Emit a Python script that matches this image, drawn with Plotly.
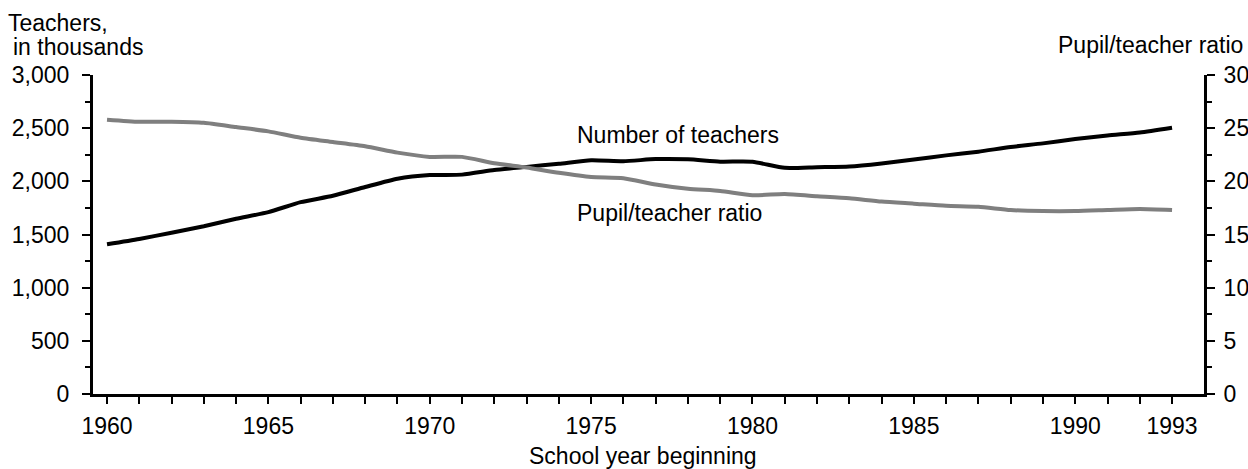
import plotly.graph_objects as go

years = list(range(1960, 1994))
teachers = [1408, 1458, 1517, 1578, 1648, 1710, 1804, 1864, 1947, 2025,
            2059, 2063, 2106, 2136, 2165, 2198, 2189, 2209, 2207, 2185,
            2184, 2127, 2133, 2139, 2168, 2206, 2244, 2279, 2323, 2357,
            2398, 2432, 2459, 2504]
ratio = [25.8, 25.6, 25.6, 25.5, 25.1, 24.7, 24.1, 23.7, 23.3, 22.7,
         22.3, 22.3, 21.7, 21.3, 20.8, 20.4, 20.3, 19.7, 19.3, 19.1,
         18.7, 18.8, 18.6, 18.4, 18.1, 17.9, 17.7, 17.6, 17.3, 17.2,
         17.2, 17.3, 17.4, 17.3]
x_tick_vals = [1960, 1965, 1970, 1975, 1980, 1985, 1990, 1993]
x_tick_text = ["1960", "1965", "1970", "1975", "1980", "1985", "1990", "1993"]

FONT = "Liberation Sans, Arial, Helvetica, sans-serif"
FS = 23

L, R, T, B = 93, 44, 75, 75
W, H = 1248, 469
PW, PH = W - L - R, H - T - B


def px(xp):
    return (xp - L) / PW


def py(yp):
    return (H - B - yp) / PH


fig = go.Figure()
fig.add_trace(go.Scatter(x=years, y=ratio, yaxis="y2", mode="lines",
                         line=dict(color="#7f7f7f", width=4, shape="spline", smoothing=0.6),
                         name="Pupil/teacher ratio", showlegend=False))
fig.add_trace(go.Scatter(x=years, y=teachers, mode="lines",
                         line=dict(color="#000000", width=4, shape="spline", smoothing=0.6),
                         name="Number of teachers", showlegend=False))

tickstyle = dict(ticks="outside", tickwidth=2, tickcolor="black")

fig.update_layout(
    width=W, height=H,
    margin=dict(l=L, r=R, t=T, b=B),
    paper_bgcolor="white", plot_bgcolor="white",
    font=dict(family=FONT, size=FS, color="black"),
    xaxis=dict(range=[1959.566, 1993.99], showgrid=False, zeroline=False, automargin=False,
               showline=True, linecolor="black", linewidth=3,
               ticklen=7, ticklabelstandoff=2, **tickstyle,
               tickvals=x_tick_vals, ticktext=x_tick_text,
               minor=dict(tickvals=years, ticklen=7, **tickstyle)),
    yaxis=dict(range=[0, 3000], showgrid=False, zeroline=False, automargin=False,
               showline=True, linecolor="black", linewidth=3,
               ticklen=8, ticklabelstandoff=8, **tickstyle,
               dtick=500, tickformat=",",
               minor=dict(dtick=250, ticklen=5, **tickstyle)),
    yaxis2=dict(range=[0, 30], overlaying="y", side="right", showgrid=False, zeroline=False,
                automargin=False,
                showline=True, linecolor="black", linewidth=3,
                ticklen=8, ticklabelstandoff=4, **tickstyle,
                dtick=5,
                minor=dict(dtick=2.5, ticklen=5, **tickstyle)),
    annotations=[
        dict(text="Teachers,", xref="paper", yref="paper",
             x=px(6), y=py(23), xanchor="left", yanchor="middle",
             showarrow=False, font=dict(size=FS)),
        dict(text="in thousands", xref="paper", yref="paper",
             x=px(11), y=py(47), xanchor="left", yanchor="middle",
             showarrow=False, font=dict(size=FS)),
        dict(text="Pupil/teacher ratio", xref="paper", yref="paper",
             x=px(1245), y=py(45), xanchor="right", yanchor="middle",
             showarrow=False, font=dict(size=FS)),
        dict(text="School year beginning", xref="paper", yref="paper",
             x=px(643), y=py(456), xanchor="center", yanchor="middle",
             showarrow=False, font=dict(size=FS)),
        dict(text="Number of teachers", xref="x", yref="y", x=1974.5, y=2436,
             xanchor="left", yanchor="middle", showarrow=False, font=dict(size=FS)),
        dict(text="Pupil/teacher ratio", xref="x", yref="y", x=1974.5, y=1702,
             xanchor="left", yanchor="middle", showarrow=False, font=dict(size=FS)),
    ],
)

fig.write_html("out.html",
               config={"displayModeBar": False},
               post_script="document.body.style.margin='0';document.body.style.overflow='hidden';")
